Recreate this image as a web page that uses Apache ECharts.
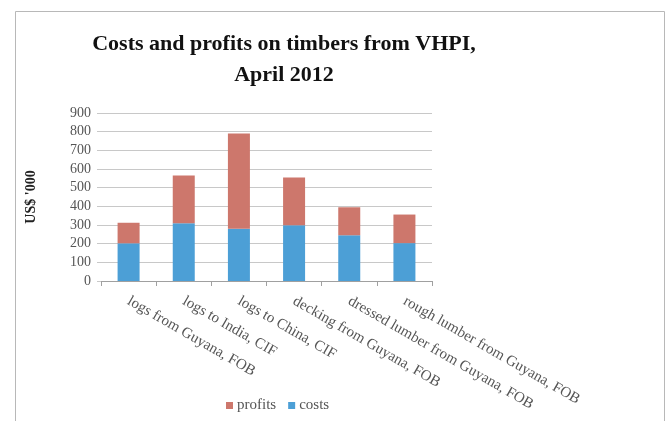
<!DOCTYPE html>
<html><head><meta charset="utf-8">
<script src="https://cdn.jsdelivr.net/npm/echarts@6/dist/echarts.min.js"></script>
<style>html,body{margin:0;padding:0;background:#fff}#c{width:672px;height:421px}</style>
</head><body><div id="c"></div>
<script>
const categories = ['logs from Guyana, FOB','logs to India, CIF','logs to China, CIF','decking from Guyana, FOB','dressed lumber from Guyana, FOB','rough lumber from Guyana, FOB'];
const costs = [202, 310, 280, 298, 245, 203];
const profits = [110, 255, 510, 256, 150, 153];
const yTicks = [0, 100, 200, 300, 400, 500, 600, 700, 800, 900];
const font = "'Liberation Serif', serif";
const chart = echarts.init(document.getElementById('c'), null, {renderer: 'canvas'});
chart.setOption({
  animation: false,
  backgroundColor: '#fff',
  graphic: [{type: 'rect', shape: {x: 15.5, y: 11.5, width: 649, height: 430}, style: {fill: 'none', stroke: '#b8b8b8', lineWidth: 1}, z: -1}],
  title: {
    text: 'Costs and profits on timbers from VHPI,\nApril 2012',
    left: 279, top: 24, textAlign: 'center',
    textStyle: {fontFamily: font, fontWeight: 'bold', fontSize: 22, lineHeight: 31, color: '#111'}
  },
  legend: {
    left: 221, top: 393, itemWidth: 7, itemHeight: 7, itemGap: 12,
    icon: 'rect',
    data: ['profits', 'costs'],
    textStyle: {fontFamily: font, fontSize: 15, color: '#555', padding: [0, 0, 0, -1]}
  },
  grid: {left: 101, right: 240, top: 113, bottom: 140, containLabel: false},
  xAxis: {
    type: 'category', data: categories,
    axisLine: {lineStyle: {color: '#a0a0a0'}},
    axisTick: {show: true, length: 5, lineStyle: {color: '#a0a0a0'}},
    axisLabel: {rotate: -30, margin: 19, interval: 0, fontFamily: font, fontSize: 15, color: '#555'}
  },
  yAxis: {
    type: 'value', min: 0, max: 900, interval: 100,
    name: "US$ '000", nameLocation: 'middle', nameGap: 63,
    nameTextStyle: {fontFamily: font, fontWeight: 'bold', fontSize: 14, color: '#222'},
    axisLine: {show: false},
    axisTick: {show: true, length: 4, lineStyle: {color: '#c8c8c8'}},
    splitLine: {lineStyle: {color: '#c8c8c8'}},
    axisLabel: {margin: 10, fontFamily: font, fontSize: 14, color: '#555',
      formatter: v => yTicks.includes(v) ? String(v) : ''}
  },
  series: [
    {name: 'costs', type: 'bar', stack: 'a', data: costs, barWidth: 22, itemStyle: {color: '#4c9fd6'}},
    {name: 'profits', type: 'bar', stack: 'a', data: profits, barWidth: 22, itemStyle: {color: '#cd776c'}}
  ]
});
</script></body></html>
